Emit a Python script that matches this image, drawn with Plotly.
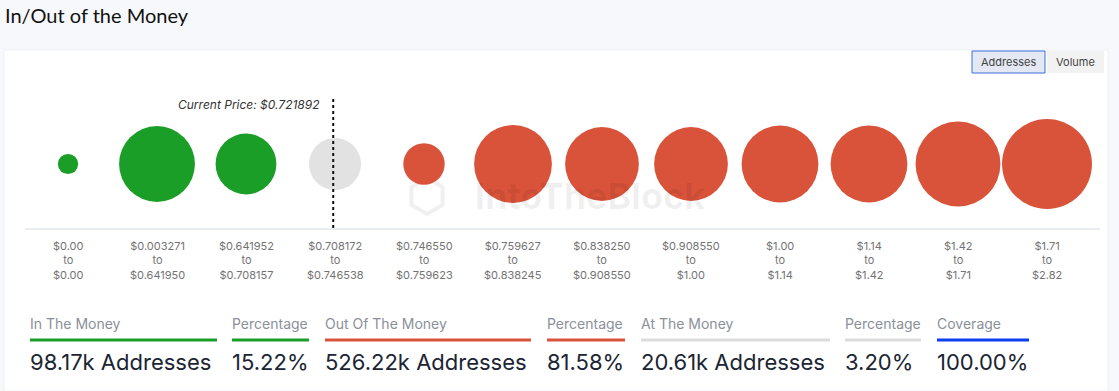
import numpy as np
import plotly.graph_objects as go

W, H = 1119, 391

# ---- data ----
range_from = ["$0.00", "$0.003271", "$0.641952", "$0.708172", "$0.746550", "$0.759627",
              "$0.838250", "$0.908550", "$1.00", "$1.14", "$1.42", "$1.71"]
range_to = ["$0.00", "$0.641950", "$0.708157", "$0.746538", "$0.759623", "$0.838245",
            "$0.908550", "$1.00", "$1.14", "$1.42", "$1.71", "$2.82"]
addresses_k = [1.21, 64.0, 32.96, 20.61, 10.42, 69.03, 58.81, 58.81, 66.45, 66.45, 89.66, 106.59]
status = ["in", "in", "in", "at", "out", "out", "out", "out", "out", "out", "out", "out"]
current_price_label = "Current Price: $0.721892"
current_bin = 3

stat_labels = ["In The Money", "Percentage", "Out Of The Money", "Percentage",
               "At The Money", "Percentage", "Coverage"]
stat_values = ["98.17k Addresses", "15.22%", "526.22k Addresses", "81.58%",
               "20.61k Addresses", "3.20%", "100.00%"]

# ---- style ----
colors = {"in": "#1a9e28", "at": "#e2e2e2", "out": "#d9533a"}
stat_colors = ["#1a9e28", "#1a9e28", "#d9533a", "#d9533a", "#dcdcdc", "#dcdcdc", "#0b3ef0"]
stat_x = [30, 232, 325, 547, 641, 845, 937]
stat_x_end = [217, 309, 531, 625, 830, 921, 1029]

def px(x):
    return x / W

def py(y):
    return 1 - y / H

idx = list(range(len(addresses_k)))
sizes = np.cbrt(np.array(addresses_k))  # diameter proportional to cube root

fig = go.Figure()
fig.add_trace(go.Scatter(
    x=idx, y=[0] * len(idx), mode="markers",
    marker=dict(size=sizes, sizemode="diameter", sizeref=np.cbrt(20.61) / 52.0,
                color=[colors[s] for s in status], line=dict(width=0), opacity=1),
    hovertemplate="%{customdata}<extra></extra>",
    customdata=[f"{a}k" for a in addresses_k],
    cliponaxis=False,
))

shapes = []
annotations = []

# page background pieces
shapes.append(dict(type="rect", xref="paper", yref="paper", x0=0, x1=1, y0=0, y1=1,
                   fillcolor="#f7f8fc", line=dict(width=0), layer="below"))
shapes.append(dict(type="rect", xref="paper", yref="paper", x0=px(4), x1=px(1108), y0=0, y1=py(50),
                   fillcolor="#ffffff", line=dict(color="#eef0f4", width=1), layer="below"))

# baseline
shapes.append(dict(type="line", xref="paper", yref="paper", x0=px(25), x1=px(1100), y0=py(229), y1=py(229),
                   line=dict(color="#d3d9e1", width=1), layer="below"))

# current price dotted line
shapes.append(dict(type="line", xref="x", yref="paper", x0=current_bin - 0.02, x1=current_bin - 0.02,
                   y0=py(99), y1=py(229), line=dict(color="#111111", width=2, dash="dot")))
annotations.append(dict(text="<i>" + current_price_label + "</i>", xref="x", yref="paper",
                        x=current_bin - 0.15, y=py(104), xanchor="right", yanchor="middle",
                        showarrow=False, font=dict(size=12, color="#333333", family="Inter")))

# watermark
annotations.append(dict(text="<b>IntoTheBlock</b>", xref="paper", yref="paper", x=px(590), y=py(196),
                        xanchor="center", yanchor="middle", showarrow=False,
                        font=dict(size=36, color="rgba(0,0,0,0.06)", family="Inter")))
cx, cy, r = 427, 196, 18
hexpath = "M {} {} L {} {} L {} {} L {} {} L {} {} L {} {} Z".format(
    *[v for a in range(6) for v in (px(cx + r * np.cos(np.pi / 6 + a * np.pi / 3)),
                                     py(cy + r * np.sin(np.pi / 6 + a * np.pi / 3)))])
shapes.append(dict(type="path", xref="paper", yref="paper", path=hexpath,
                   line=dict(color="rgba(0,0,0,0.06)", width=4), layer="below"))

# category labels
for i in idx:
    annotations.append(dict(text=f"{range_from[i]}<br>to<br>{range_to[i]}", xref="x", yref="paper",
                            x=i, y=py(237), xanchor="center", yanchor="top", showarrow=False,
                            align="center", font=dict(size=11, color="#737373", family="Inter")))

# title
annotations.append(dict(text="In/Out of the Money", xref="paper", yref="paper", x=px(3), y=py(15),
                        xanchor="left", yanchor="middle", showarrow=False,
                        font=dict(size=20, color="#111111", family="Lato")))

# buttons
shapes.append(dict(type="rect", xref="paper", yref="paper", x0=px(972), x1=px(1045), y0=py(73), y1=py(51),
                   fillcolor="#e3e8f3", line=dict(color="#3a6fe0", width=1)))
shapes.append(dict(type="rect", xref="paper", yref="paper", x0=px(1047), x1=px(1104), y0=py(73), y1=py(51),
                   fillcolor="#f2f2f2", line=dict(width=0)))
annotations.append(dict(text="Addresses", xref="paper", yref="paper", x=px(1008.5), y=py(62),
                        xanchor="center", yanchor="middle", showarrow=False,
                        font=dict(size=11, color="#444444", family="Inter")))
annotations.append(dict(text="Volume", xref="paper", yref="paper", x=px(1075.5), y=py(62),
                        xanchor="center", yanchor="middle", showarrow=False,
                        font=dict(size=11, color="#444444", family="Inter")))

# stats row
for lab, val, c, x0, x1 in zip(stat_labels, stat_values, stat_colors, stat_x, stat_x_end):
    annotations.append(dict(text=lab, xref="paper", yref="paper", x=px(x0 - 2), y=py(323),
                            xanchor="left", yanchor="middle", showarrow=False,
                            font=dict(size=14, color="#8a9099", family="Inter")))
    shapes.append(dict(type="line", xref="paper", yref="paper", x0=px(x0), x1=px(x1), y0=py(340), y1=py(340),
                       line=dict(color=c, width=3)))
    annotations.append(dict(text=val, xref="paper", yref="paper", x=px(x0 - 2), y=py(362),
                            xanchor="left", yanchor="middle", showarrow=False,
                            font=dict(size=22, color="#1b2533", family="Inter")))

r0 = -68 / 89
r1 = r0 + W / 89
fig.update_layout(
    width=W, height=H, margin=dict(l=0, r=0, t=0, b=0),
    paper_bgcolor="#f7f8fc", plot_bgcolor="rgba(0,0,0,0)",
    xaxis=dict(range=[r0, r1], domain=[0, 1], visible=False, fixedrange=True),
    yaxis=dict(range=[-1, 1], domain=[py(164) - 0.1, py(164) + 0.1], visible=False, fixedrange=True),
    shapes=shapes, annotations=annotations, showlegend=False,
)

fig.write_html("out.html", config={"displayModeBar": False},
               post_script="document.body.style.margin='0';document.body.style.overflow='hidden';")
